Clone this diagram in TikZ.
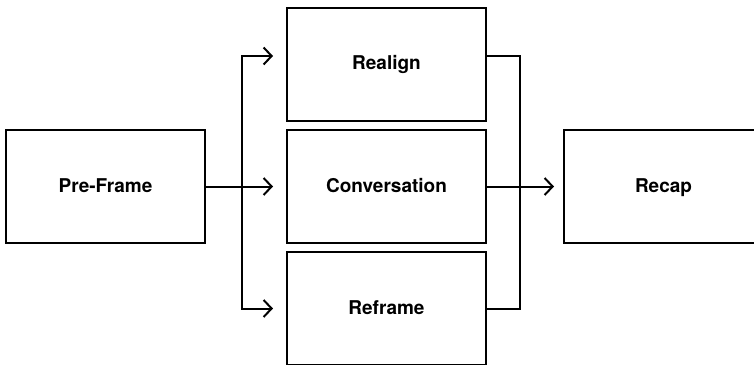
\documentclass[tikz,border=0pt]{standalone}
\usepackage{fontspec}
\setmainfont{TeX Gyre Heros}
\usetikzlibrary{arrows.meta}
\begin{document}
\begin{tikzpicture}[x=1pt, y=-1pt,
  box/.style={draw=black, line width=2pt, rectangle, minimum width=199pt,
    minimum height=113pt, inner sep=0pt, text height=15.5pt, text depth=4pt,
    font=\fontsize{19}{22}\selectfont\bfseries},
  link/.style={draw=black, line width=2pt},
  arr/.style={link, -{Straight Barb[length=8pt,width=17pt,line width=2pt]}}]
  \path[use as bounding box] (0,0) rectangle (754,364);
  \clip (0,0) rectangle (754,364);

  % stages of the session
  \node[box] (pre)     at (105.5,186.5) {Pre-Frame};
  \node[box] (realign) at (386.5,64)    {Realign};
  \node[box] (conv)    at (386.5,186.5) {Conversation};
  \node[box] (reframe) at (386.5,308.5) {Reframe};
  \node[box] (recap)   at (663.5,186.5) {Recap};

  % side ports of the upper box
  \coordinate (rein)  at ([yshift=8pt]realign.west);
  \coordinate (reout) at ([yshift=8pt]realign.east);

  % split after the pre-frame
  \coordinate (split) at (242,186.5);
  \draw[arr, shorten >=13pt] (pre.east) -- (conv.west);
  \draw[arr, shorten >=13pt] (split) |- (rein);
  \draw[arr, shorten >=13pt] (split) |- (reframe.west);

  % merge into the recap
  \coordinate (merge) at (519.5,186.5);
  \draw[link] (reout) -| (merge) |- (reframe.east);
  \draw[arr, shorten >=9pt] (conv.east) -- (recap.west);
\end{tikzpicture}
\end{document}
